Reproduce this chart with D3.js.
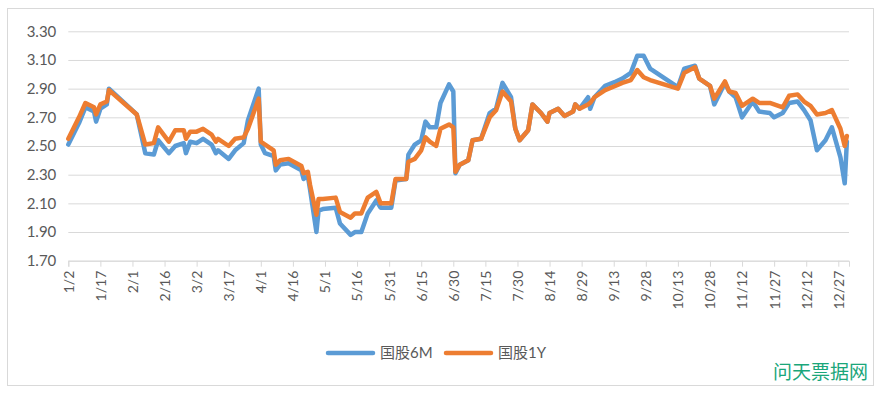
<!DOCTYPE html>
<html>
<head>
<meta charset="utf-8">
<script src="https://cdn.jsdelivr.net/npm/d3@7"></script>
<style>
  body { margin: 0; background: #fff; }
  text { font-family: Lato, "Noto Sans CJK SC", sans-serif; }
</style>
</head>
<body>
<div id="chart"></div>
<script>
  // trading days (month/day) and rates
  var dates = [
    "1/2","1/7","1/10","1/14","1/15","1/17","1/20","1/21","2/3","2/7",
    "2/11","2/13","2/18","2/21","2/25","2/26","2/28","3/2","3/5","3/9",
    "3/11","3/12","3/17","3/20","3/24","3/26","3/31","4/1","4/3","4/7",
    "4/8","4/10","4/14","4/20","4/21","4/23","4/24","4/27","4/28","4/30",
    "5/6","5/8","5/13","5/15","5/18","5/21","5/25","5/27","6/1","6/3",
    "6/8","6/9","6/12","6/15","6/17","6/19","6/22","6/24","6/28","6/30",
    "7/1","7/3","7/7","7/9","7/13","7/17","7/20","7/23","7/27","7/29",
    "7/31","8/4","8/6","8/10","8/13","8/14","8/18","8/21","8/25","8/26",
    "8/28","9/1","9/2","9/4","9/9","9/14","9/17","9/21","9/24","9/27",
    "9/30","10/13","10/16","10/21","10/23","10/28","10/30","11/4","11/6","11/9",
    "11/12","11/17","11/20","11/25","11/27","12/1","12/4","12/8","12/11","12/14",
    "12/17","12/21","12/24","12/28","12/30","12/31"
  ];

  var gg6m = [
    2.51,2.66,2.77,2.74,2.67,2.76,2.79,2.90,2.72,2.45,
    2.44,2.54,2.45,2.50,2.52,2.45,2.53,2.52,2.55,2.51,
    2.45,2.47,2.41,2.47,2.52,2.68,2.90,2.51,2.45,2.43,
    2.33,2.37,2.38,2.33,2.27,2.29,2.20,1.90,2.05,2.06,
    2.07,1.96,1.88,1.90,1.90,2.03,2.12,2.07,2.07,2.26,
    2.27,2.44,2.51,2.54,2.67,2.63,2.63,2.80,2.93,2.88,
    2.31,2.37,2.40,2.54,2.55,2.73,2.76,2.94,2.84,2.62,
    2.54,2.61,2.79,2.73,2.67,2.73,2.76,2.71,2.74,2.79,
    2.76,2.84,2.76,2.84,2.92,2.95,2.97,3.01,3.13,3.13,
    3.04,2.91,3.04,3.06,2.97,2.92,2.79,2.94,2.88,2.84,
    2.70,2.81,2.74,2.73,2.70,2.73,2.80,2.81,2.75,2.68,
    2.47,2.54,2.63,2.42,2.24,2.53
  ];

  var gg1y = [
    2.55,2.70,2.80,2.77,2.72,2.79,2.81,2.89,2.72,2.51,
    2.52,2.63,2.53,2.61,2.61,2.55,2.60,2.60,2.62,2.58,
    2.53,2.55,2.50,2.55,2.56,2.62,2.83,2.53,2.51,2.47,
    2.37,2.40,2.41,2.36,2.31,2.32,2.23,2.02,2.13,2.13,
    2.14,2.04,2.00,2.03,2.03,2.14,2.18,2.10,2.10,2.27,
    2.27,2.39,2.41,2.47,2.56,2.53,2.50,2.62,2.65,2.63,
    2.32,2.37,2.40,2.54,2.55,2.70,2.75,2.88,2.81,2.62,
    2.54,2.61,2.79,2.73,2.67,2.73,2.76,2.71,2.74,2.79,
    2.76,2.79,2.80,2.84,2.89,2.92,2.94,2.96,3.03,2.98,
    2.96,2.90,3.01,3.05,2.97,2.92,2.83,2.95,2.88,2.87,
    2.78,2.83,2.80,2.80,2.79,2.77,2.85,2.86,2.81,2.78,
    2.72,2.73,2.75,2.62,2.50,2.57
  ];

  var seriesNames = ["国股6M", "国股1Y"];
  var seriesColors = ["#5b9bd5", "#ed7d31"];

  var tickLabels = [
    "1/2","1/17","2/1","2/16","3/2","3/17","4/1","4/16","5/1","5/16",
    "5/31","6/15","6/30","7/15","7/30","8/14","8/29","9/13","9/28","10/13",
    "10/28","11/12","11/27","12/12","12/27"
  ];
  var yTicks = [1.70, 1.90, 2.10, 2.30, 2.50, 2.70, 2.90, 3.10, 3.30];

  var parse = d3.timeParse("%Y/%m/%d");
  function toDate(s) { return parse("2020/" + s); }

  var W = 881, H = 393;
  var margin = {top: 31.3, right: 32, bottom: 132.3, left: 68.3},
      width = W - margin.left - margin.right,
      height = H - margin.top - margin.bottom;

  var x = d3.scaleTime()
    .domain([toDate("1/2"), parse("2021/01/01")])
    .range([0, width]);
  var y = d3.scaleLinear()
    .domain([1.70, 3.30])
    .range([height, 0]);

  var svg = d3.select("#chart")
    .append("svg")
      .attr("width", W)
      .attr("height", H);

  // outer chart border
  svg.append("rect")
    .attr("x", 7.5)
    .attr("y", 8.5)
    .attr("width", 866)
    .attr("height", 377)
    .style("fill", "none")
    .style("stroke", "#d9d9d9");

  var vis = svg.append("g")
    .attr("transform", "translate(" + margin.left + "," + margin.top + ")");

  // gridlines + y labels
  var yax = d3.axisLeft(y)
    .tickValues(yTicks)
    .tickSize(-width)
    .tickPadding(12)
    .tickFormat(d3.format(".2f"));
  var gy = vis.append("g").call(yax);
  gy.select(".domain").remove();
  gy.selectAll(".tick line").style("stroke", "#d9d9d9");
  gy.selectAll(".tick text")
    .style("font-size", "15px")
    .style("fill", "#595959");

  // x axis
  var xax = d3.axisBottom(x)
    .tickValues(tickLabels.map(toDate))
    .tickSize(6)
    .tickFormat(function(d, i) { return tickLabels[i]; });
  var gx = vis.append("g")
    .attr("transform", "translate(0," + height + ")")
    .call(xax);
  gx.select(".domain").style("stroke", "#d9d9d9");
  gx.selectAll(".tick line").style("stroke", "#d9d9d9");
  gx.selectAll(".tick text")
    .attr("transform", "rotate(-90)")
    .attr("text-anchor", "end")
    .attr("x", -10)
    .attr("y", 0)
    .attr("dy", "0.35em")
    .style("font-size", "14px")
    .style("fill", "#595959");

  // lines
  var series = [gg6m, gg1y];
  var line = d3.line()
    .x(function(d, i) { return x(toDate(dates[i])); })
    .y(function(d) { return y(d); });

  series.forEach(function(s, k) {
    vis.append("path")
      .datum(s)
      .attr("d", line)
      .style("fill", "none")
      .style("stroke", seriesColors[k])
      .style("stroke-width", 4.5)
      .style("stroke-linejoin", "round")
      .style("stroke-linecap", "round");
  });

  // legend
  var legendX = [328, 446];
  var leg = svg.append("g");
  seriesNames.forEach(function(n, k) {
    leg.append("line")
      .attr("x1", legendX[k])
      .attr("x2", legendX[k] + 45)
      .attr("y1", 353)
      .attr("y2", 353)
      .style("stroke", seriesColors[k])
      .style("stroke-width", 4.5)
      .style("stroke-linecap", "round");
    leg.append("text")
      .attr("x", legendX[k] + 52)
      .attr("y", 358)
      .text(n)
      .style("font-size", "15px")
      .style("fill", "#595959");
  });

  // watermark
  svg.append("text")
    .attr("x", 868)
    .attr("y", 379)
    .attr("text-anchor", "end")
    .text("问天票据网")
    .style("font-family", "'Noto Sans CJK SC', sans-serif")
    .style("font-size", "19px")
    .style("fill", "#1aa67a");
</script>
</body>
</html>
